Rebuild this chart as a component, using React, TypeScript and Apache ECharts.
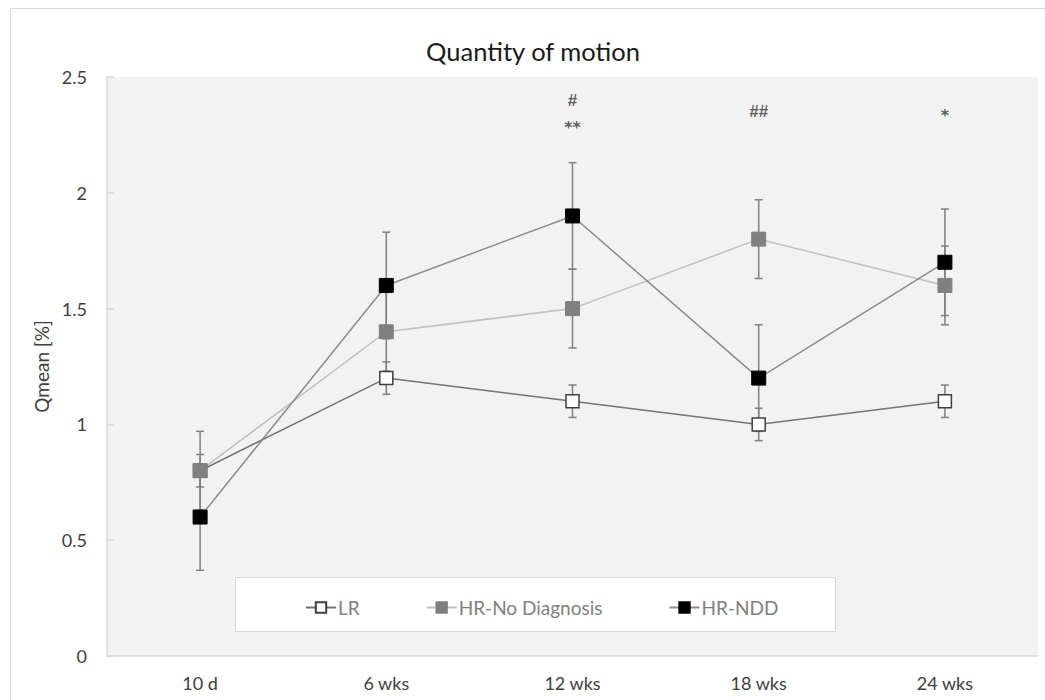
import React, { useEffect, useRef } from "react";
import * as echarts from "echarts";

const categories = ["10 d", "6 wks", "12 wks", "18 wks", "24 wks"];
const lrValues = [0.8, 1.2, 1.1, 1.0, 1.1];
const lrErrors = [0.07, 0.07, 0.07, 0.07, 0.07];
const hrNoDiagValues = [0.8, 1.4, 1.5, 1.8, 1.6];
const hrNoDiagErrors = [0.17, 0.17, 0.17, 0.17, 0.17];
const hrNddValues = [0.6, 1.6, 1.9, 1.2, 1.7];
const hrNddErrors = [0.23, 0.23, 0.23, 0.23, 0.23];
const yTicks = [0, 0.5, 1, 1.5, 2, 2.5];
// significance marks: [category index, y position (value units), text]
const sigMarks: [number, number, string][] = [
  [2, 2.4, "#"],
  [2, 2.28, "**"],
  [3, 2.35, "##"],
  [4, 2.335, "*"],
];

const FONT = "Lato, 'Open Sans', sans-serif";

function errData(values: number[], errs: number[]) {
  return values.map((v, i) => [i, v - errs[i], v + errs[i]]);
}

function errorSeries(name: string, values: number[], errs: number[]) {
  return {
    type: "custom",
    name: name + "-err",
    z: 1,
    silent: true,
    data: errData(values, errs),
    encode: { x: 0, y: [1, 2] },
    renderItem: (params: any, api: any) => {
      const x = api.value(0);
      const lo = api.coord([x, api.value(1)]);
      const hi = api.coord([x, api.value(2)]);
      const hw = 4;
      const style = { stroke: "#808080", lineWidth: 1.5 };
      return {
        type: "group",
        children: [
          { type: "line", shape: { x1: lo[0], y1: lo[1], x2: hi[0], y2: hi[1] }, style },
          { type: "line", shape: { x1: lo[0] - hw, y1: lo[1], x2: lo[0] + hw, y2: lo[1] }, style },
          { type: "line", shape: { x1: hi[0] - hw, y1: hi[1], x2: hi[0] + hw, y2: hi[1] }, style },
        ],
      };
    },
  };
}

export default function App() {
  const ref = useRef<HTMLDivElement>(null);

  useEffect(() => {
    if (!ref.current) return;
    const chart = echarts.init(ref.current, undefined, { renderer: "svg" });
    chart.setOption({
      animation: false,
      textStyle: { fontFamily: FONT },
      title: {
        text: "Quantity of motion",
        left: 528,
        top: 33,
        textAlign: "center",
        textStyle: { fontFamily: FONT, fontSize: 25.5, fontWeight: "normal", color: "#1a1a1a" },
      },
      graphic: [
        {
          type: "rect",
          shape: { x: 10.5, y: 8.5, width: 1100, height: 800 },
          style: { fill: "none", stroke: "#d9d9d9", lineWidth: 1 },
          silent: true,
          z: 0,
        },
        {
          type: "rect",
          shape: { x: 235.5, y: 577.5, width: 600, height: 54 },
          style: { fill: "#ffffff", stroke: "#d9d9d9", lineWidth: 1 },
          silent: true,
          z: 1,
        },
      ],
      legend: {
        left: 300,
        top: 593,
        itemWidth: 30,
        itemHeight: 13,
        itemGap: 66,
        z: 5,
        textStyle: { fontFamily: FONT, fontSize: 19, color: "#7f7f7f", padding: [0, 0, 0, -3] },
        data: ["LR", "HR-No Diagnosis", "HR-NDD"],
      },
      grid: {
        left: 107,
        right: 7,
        top: 77,
        bottom: 44,
        show: true,
        backgroundColor: "#f2f2f2",
        borderWidth: 0,
      },
      xAxis: {
        type: "category",
        data: categories,
        boundaryGap: true,
        axisLine: { lineStyle: { color: "#d9d9d9", width: 1.5 } },
        axisTick: { alignWithLabel: true, length: 10, lineStyle: { color: "#d9d9d9", width: 1.5 } },
        axisLabel: { fontFamily: FONT, fontSize: 18, color: "#404040", margin: 18 },
      },
      yAxis: {
        type: "value",
        min: 0,
        max: 2.5,
        interval: 0.5,
        name: "Qmean [%]",
        nameLocation: "middle",
        nameGap: 54,
        nameTextStyle: { fontFamily: FONT, fontSize: 19, color: "#404040" },
        axisLine: { show: true, lineStyle: { color: "#d9d9d9", width: 1.5 } },
        axisTick: { show: true, inside: true, length: 7, lineStyle: { color: "#d9d9d9", width: 1.5 } },
        splitLine: { show: false },
        axisLabel: {
          fontFamily: FONT,
          fontSize: 18,
          color: "#404040",
          margin: 20,
          formatter: (v: number) => (yTicks.includes(v) ? String(v) : ""),
        },
      },
      series: [
        errorSeries("LR", lrValues, lrErrors),
        errorSeries("HR-No Diagnosis", hrNoDiagValues, hrNoDiagErrors),
        errorSeries("HR-NDD", hrNddValues, hrNddErrors),
        {
          type: "line",
          name: "LR",
          z: 3,
          data: lrValues,
          symbol: "rect",
          symbolSize: 13,
          lineStyle: { color: "#737373", width: 1.5 },
          itemStyle: { color: "#ffffff", borderColor: "#404040", borderWidth: 1.5 },
        },
        {
          type: "line",
          name: "HR-No Diagnosis",
          z: 3,
          data: hrNoDiagValues,
          symbol: "rect",
          symbolSize: 14,
          lineStyle: { color: "#bfbfbf", width: 1.5 },
          itemStyle: { color: "#808080", borderColor: "#808080", borderWidth: 1 },
        },
        {
          type: "line",
          name: "HR-NDD",
          z: 3,
          data: hrNddValues,
          symbol: "rect",
          symbolSize: 14,
          lineStyle: { color: "#8c8c8c", width: 1.5 },
          itemStyle: { color: "#000000", borderColor: "#000000", borderWidth: 1 },
        },
        {
          type: "scatter",
          name: "sig",
          z: 4,
          silent: true,
          symbolSize: 0,
          data: sigMarks.map((m) => ({
            value: [m[0], m[1], m[2]],
            label: m[2].includes("*")
              ? { fontFamily: "'DejaVu Sans', sans-serif", fontSize: 16 }
              : { fontFamily: "'Liberation Sans', Arial, sans-serif", fontSize: 17 },
          })),
          label: {
            show: true,
            position: "inside",
            formatter: (p: any) => p.value[2],
            fontWeight: "bold",
            color: "#333333",
          },
        },
      ],
    });
    return () => chart.dispose();
  }, []);

  return (
    <div
      ref={ref}
      style={{ position: "fixed", left: 0, top: 0, width: 1045, height: 700, background: "#ffffff" }}
    />
  );
}
